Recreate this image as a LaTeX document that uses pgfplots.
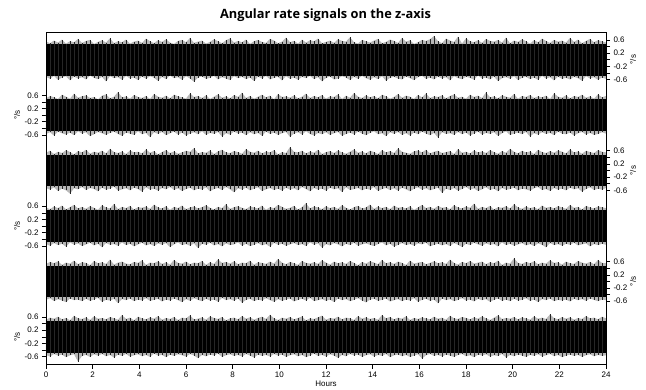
\documentclass[border=0pt]{standalone}
\usepackage{fontspec}
\setmainfont{Liberation Sans}
\newfontfamily\titlefont{Open Sans}
\usepackage{pgfplots}
\usepackage{pgfplotstable}
\pgfplotsset{compat=1.18}

\pgfplotstableread[row sep=\\]{
u d\\
0.55 -0.52\\0.50 -0.58\\0.58 -0.49\\0.52 -0.61\\0.61 -0.54\\0.49 -0.50\\0.56 -0.63\\0.53 -0.51\\0.63 -0.57\\0.51 -0.53\\
0.57 -0.60\\0.60 -0.48\\0.48 -0.55\\0.54 -0.59\\0.59 -0.52\\0.52 -0.66\\0.65 -0.50\\0.50 -0.56\\0.56 -0.53\\0.53 -0.61\\
0.61 -0.49\\0.49 -0.57\\0.55 -0.54\\0.58 -0.62\\0.51 -0.51\\0.64 -0.58\\0.56 -0.50\\0.50 -0.55\\0.59 -0.64\\0.54 -0.52\\
0.62 -0.59\\0.52 -0.48\\0.48 -0.56\\0.57 -0.53\\0.60 -0.61\\0.53 -0.50\\0.66 -0.57\\0.51 -0.67\\0.55 -0.54\\0.58 -0.51\\
0.49 -0.58\\0.54 -0.55\\0.62 -0.49\\0.56 -0.60\\0.50 -0.53\\0.59 -0.57\\0.65 -0.62\\0.52 -0.50\\0.57 -0.56\\0.53 -0.52\\
0.61 -0.59\\0.48 -0.54\\0.56 -0.65\\0.60 -0.51\\0.54 -0.57\\0.51 -0.49\\0.63 -0.60\\0.58 -0.55\\0.50 -0.52\\0.55 -0.63\\
0.67 -0.50\\0.53 -0.58\\0.57 -0.54\\0.49 -0.61\\0.61 -0.52\\0.52 -0.56\\0.59 -0.49\\0.56 -0.59\\0.64 -0.53\\0.50 -0.66\\
0.54 -0.55\\0.58 -0.51\\0.51 -0.60\\0.62 -0.57\\0.57 -0.50\\0.55 -0.54\\0.68 -0.62\\0.53 -0.52\\0.49 -0.58\\0.60 -0.49\\
0.56 -0.56\\0.52 -0.61\\0.58 -0.53\\0.63 -0.59\\0.50 -0.50\\0.54 -0.64\\0.61 -0.55\\0.57 -0.52\\0.51 -0.57\\0.66 -0.60\\
0.55 -0.51\\0.59 -0.56\\0.48 -0.62\\0.53 -0.53\\0.60 -0.49\\0.57 -0.58\\0.62 -0.54\\0.72 -0.60\\0.56 -0.51\\0.50 -0.57\\
0.64 -0.53\\0.58 -0.63\\0.54 -0.50\\0.70 -0.56\\0.49 -0.59\\0.65 -0.52\\0.56 -0.55\\0.53 -0.61\\0.59 -0.48\\0.51 -0.57\\
0.63 -0.54\\0.57 -0.60\\0.55 -0.51\\0.60 -0.65\\0.52 -0.56\\0.67 -0.53\\0.50 -0.58\\0.58 -0.50\\0.54 -0.62\\0.62 -0.55\\
0.56 -0.52\\0.49 -0.59\\0.59 -0.54\\0.53 -0.61\\0.64 -0.49\\0.57 -0.57\\0.51 -0.53\\0.60 -0.63\\0.55 -0.51\\0.58 -0.58\\
0.52 -0.55\\0.66 -0.60\\0.54 -0.52\\0.61 -0.56\\0.50 -0.64\\0.57 -0.50\\0.63 -0.57\\0.53 -0.53\\0.59 -0.61\\0.56 -0.54\\
0.52 -0.58\\
}\pA

\pgfplotstableread[row sep=\\]{
u d\\
0.51 -0.57\\0.58 -0.52\\0.54 -0.62\\0.49 -0.50\\0.62 -0.55\\0.56 -0.59\\0.50 -0.53\\0.65 -0.61\\0.53 -0.49\\0.57 -0.56\\
0.60 -0.52\\0.52 -0.64\\0.55 -0.58\\0.48 -0.51\\0.59 -0.55\\0.63 -0.60\\0.51 -0.54\\0.56 -0.50\\0.70 -0.57\\0.54 -0.63\\
0.57 -0.53\\0.50 -0.56\\0.61 -0.60\\0.55 -0.49\\0.52 -0.58\\0.58 -0.54\\0.49 -0.67\\0.64 -0.52\\0.56 -0.57\\0.53 -0.51\\
0.59 -0.61\\0.51 -0.55\\0.62 -0.50\\0.57 -0.59\\0.54 -0.53\\0.50 -0.62\\0.66 -0.56\\0.55 -0.52\\0.58 -0.58\\0.52 -0.49\\
0.60 -0.60\\0.49 -0.54\\0.56 -0.57\\0.63 -0.51\\0.53 -0.65\\0.57 -0.55\\0.51 -0.59\\0.61 -0.50\\0.55 -0.56\\0.68 -0.53\\
0.52 -0.61\\0.58 -0.52\\0.50 -0.58\\0.56 -0.54\\0.62 -0.63\\0.54 -0.50\\0.59 -0.57\\0.48 -0.53\\0.64 -0.60\\0.55 -0.55\\
0.57 -0.51\\0.53 -0.66\\0.60 -0.56\\0.51 -0.52\\0.56 -0.59\\0.65 -0.49\\0.52 -0.57\\0.58 -0.62\\0.54 -0.54\\0.61 -0.58\\
0.50 -0.52\\0.57 -0.60\\0.55 -0.55\\0.63 -0.51\\0.49 -0.63\\0.59 -0.57\\0.53 -0.53\\0.67 -0.59\\0.56 -0.50\\0.52 -0.56\\
0.60 -0.61\\0.54 -0.54\\0.58 -0.49\\0.51 -0.58\\0.62 -0.55\\0.57 -0.64\\0.50 -0.52\\0.55 -0.57\\0.64 -0.51\\0.53 -0.60\\
0.59 -0.55\\0.56 -0.62\\0.49 -0.53\\0.61 -0.58\\0.54 -0.50\\0.66 -0.56\\0.52 -0.61\\0.57 -0.54\\0.55 -0.68\\0.60 -0.52\\
0.51 -0.57\\0.58 -0.55\\0.63 -0.60\\0.53 -0.51\\0.56 -0.58\\0.50 -0.53\\0.62 -0.62\\0.55 -0.56\\0.59 -0.50\\0.52 -0.59\\
0.69 -0.54\\0.54 -0.57\\0.57 -0.52\\0.51 -0.63\\0.60 -0.55\\0.56 -0.49\\0.53 -0.60\\0.64 -0.56\\0.50 -0.53\\0.58 -0.58\\
0.55 -0.51\\0.61 -0.65\\0.52 -0.55\\0.57 -0.59\\0.54 -0.52\\0.59 -0.57\\0.49 -0.54\\0.66 -0.61\\0.56 -0.50\\0.53 -0.56\\
0.60 -0.58\\0.51 -0.53\\0.58 -0.62\\0.55 -0.55\\0.62 -0.51\\0.53 -0.59\\0.57 -0.54\\0.50 -0.60\\0.63 -0.57\\0.54 -0.52\\
0.58 -0.56\\
}\pB

\pgfplotstableread[row sep=\\]{
u d\\
0.54 -0.53\\0.60 -0.58\\0.50 -0.51\\0.57 -0.62\\0.53 -0.55\\0.62 -0.60\\0.56 -0.70\\0.49 -0.54\\0.59 -0.57\\0.55 -0.50\\
0.63 -0.59\\0.51 -0.53\\0.57 -0.56\\0.54 -0.63\\0.60 -0.52\\0.52 -0.58\\0.66 -0.55\\0.56 -0.49\\0.53 -0.61\\0.58 -0.57\\
0.50 -0.54\\0.61 -0.60\\0.55 -0.52\\0.57 -0.56\\0.52 -0.64\\0.64 -0.51\\0.54 -0.58\\0.59 -0.55\\0.49 -0.61\\0.56 -0.53\\
0.62 -0.57\\0.53 -0.50\\0.58 -0.59\\0.51 -0.54\\0.55 -0.62\\0.60 -0.56\\0.57 -0.52\\0.68 -0.60\\0.52 -0.55\\0.56 -0.58\\
0.54 -0.51\\0.61 -0.63\\0.50 -0.56\\0.58 -0.53\\0.63 -0.59\\0.55 -0.50\\0.53 -0.57\\0.59 -0.66\\0.56 -0.54\\0.51 -0.58\\
0.65 -0.52\\0.57 -0.60\\0.54 -0.55\\0.60 -0.51\\0.52 -0.62\\0.58 -0.57\\0.55 -0.53\\0.62 -0.59\\0.49 -0.55\\0.56 -0.61\\
0.53 -0.52\\0.71 -0.58\\0.57 -0.54\\0.55 -0.60\\0.60 -0.50\\0.52 -0.56\\0.58 -0.63\\0.54 -0.53\\0.63 -0.58\\0.50 -0.55\\
0.56 -0.61\\0.59 -0.52\\0.53 -0.57\\0.61 -0.54\\0.55 -0.65\\0.51 -0.51\\0.57 -0.59\\0.64 -0.56\\0.54 -0.53\\0.58 -0.60\\
0.52 -0.55\\0.60 -0.58\\0.56 -0.50\\0.50 -0.62\\0.62 -0.56\\0.55 -0.53\\0.59 -0.59\\0.53 -0.54\\0.67 -0.61\\0.57 -0.52\\
0.54 -0.57\\0.51 -0.63\\0.58 -0.55\\0.61 -0.51\\0.55 -0.58\\0.63 -0.54\\0.52 -0.60\\0.57 -0.56\\0.60 -0.52\\0.53 -0.68\\
0.56 -0.55\\0.59 -0.59\\0.50 -0.53\\0.65 -0.61\\0.54 -0.56\\0.57 -0.50\\0.52 -0.58\\0.61 -0.54\\0.55 -0.62\\0.58 -0.57\\
0.53 -0.51\\0.62 -0.59\\0.56 -0.55\\0.51 -0.63\\0.59 -0.53\\0.54 -0.58\\0.66 -0.56\\0.57 -0.52\\0.52 -0.60\\0.60 -0.55\\
0.55 -0.57\\0.58 -0.61\\0.50 -0.54\\0.63 -0.50\\0.56 -0.59\\0.53 -0.56\\0.59 -0.62\\0.54 -0.53\\0.61 -0.58\\0.57 -0.55\\
0.52 -0.60\\0.64 -0.52\\0.55 -0.57\\0.58 -0.54\\0.51 -0.64\\0.60 -0.56\\0.56 -0.51\\0.53 -0.59\\0.62 -0.55\\0.57 -0.58\\
0.55 -0.53\\
}\pC

\pgfplotstableread[row sep=\\]{
u d\\
0.56 -0.55\\0.51 -0.60\\0.59 -0.52\\0.54 -0.58\\0.62 -0.54\\0.50 -0.63\\0.57 -0.50\\0.64 -0.57\\0.53 -0.53\\0.58 -0.61\\
0.52 -0.56\\0.60 -0.51\\0.55 -0.59\\0.49 -0.54\\0.63 -0.65\\0.56 -0.52\\0.53 -0.57\\0.67 -0.55\\0.51 -0.60\\0.58 -0.50\\
0.54 -0.58\\0.61 -0.54\\0.50 -0.62\\0.57 -0.56\\0.55 -0.51\\0.59 -0.59\\0.52 -0.55\\0.65 -0.61\\0.56 -0.53\\0.53 -0.57\\
0.60 -0.52\\0.49 -0.64\\0.58 -0.56\\0.54 -0.50\\0.62 -0.58\\0.51 -0.55\\0.56 -0.60\\0.59 -0.53\\0.53 -0.67\\0.57 -0.54\\
0.63 -0.57\\0.55 -0.51\\0.50 -0.59\\0.58 -0.55\\0.54 -0.62\\0.66 -0.53\\0.52 -0.58\\0.57 -0.56\\0.60 -0.50\\0.55 -0.60\\
0.51 -0.54\\0.59 -0.61\\0.56 -0.57\\0.53 -0.52\\0.62 -0.59\\0.49 -0.55\\0.57 -0.63\\0.54 -0.51\\0.64 -0.57\\0.58 -0.54\\
0.52 -0.60\\0.55 -0.56\\0.61 -0.52\\0.50 -0.58\\0.57 -0.55\\0.69 -0.61\\0.53 -0.50\\0.59 -0.57\\0.56 -0.53\\0.51 -0.66\\
0.60 -0.55\\0.54 -0.59\\0.58 -0.52\\0.52 -0.56\\0.63 -0.62\\0.55 -0.54\\0.50 -0.58\\0.57 -0.51\\0.61 -0.60\\0.53 -0.56\\
0.56 -0.53\\0.65 -0.57\\0.52 -0.61\\0.59 -0.55\\0.54 -0.50\\0.58 -0.59\\0.51 -0.54\\0.62 -0.63\\0.55 -0.57\\0.57 -0.52\\
0.53 -0.58\\0.60 -0.55\\0.49 -0.60\\0.56 -0.53\\0.64 -0.56\\0.54 -0.51\\0.58 -0.62\\0.52 -0.57\\0.61 -0.54\\0.55 -0.59\\
0.57 -0.55\\0.51 -0.61\\0.63 -0.52\\0.56 -0.57\\0.53 -0.64\\0.59 -0.54\\0.55 -0.58\\0.68 -0.51\\0.52 -0.56\\0.58 -0.60\\
0.54 -0.53\\0.61 -0.57\\0.50 -0.55\\0.57 -0.62\\0.55 -0.50\\0.60 -0.58\\0.53 -0.54\\0.66 -0.60\\0.56 -0.56\\0.52 -0.52\\
0.59 -0.59\\0.54 -0.55\\0.57 -0.61\\0.51 -0.53\\0.62 -0.57\\0.55 -0.65\\0.58 -0.52\\0.53 -0.58\\0.60 -0.55\\0.56 -0.60\\
0.52 -0.54\\0.64 -0.57\\0.55 -0.51\\0.58 -0.59\\0.50 -0.56\\0.61 -0.53\\0.56 -0.62\\0.53 -0.55\\0.59 -0.58\\0.57 -0.54\\
0.54 -0.57\\
}\pD

\pgfplotstableread[row sep=\\]{
u d\\
0.53 -0.56\\0.59 -0.51\\0.55 -0.60\\0.61 -0.54\\0.50 -0.58\\0.57 -0.63\\0.54 -0.52\\0.63 -0.57\\0.52 -0.55\\0.58 -0.60\\
0.56 -0.53\\0.49 -0.59\\0.62 -0.55\\0.55 -0.50\\0.58 -0.62\\0.53 -0.56\\0.66 -0.58\\0.51 -0.53\\0.57 -0.66\\0.60 -0.54\\
0.54 -0.57\\0.52 -0.52\\0.59 -0.60\\0.56 -0.55\\0.64 -0.58\\0.50 -0.51\\0.57 -0.59\\0.55 -0.56\\0.61 -0.53\\0.53 -0.61\\
0.58 -0.55\\0.51 -0.58\\0.65 -0.52\\0.56 -0.57\\0.54 -0.63\\0.60 -0.54\\0.52 -0.59\\0.57 -0.51\\0.55 -0.56\\0.62 -0.60\\
0.50 -0.53\\0.58 -0.58\\0.53 -0.55\\0.67 -0.62\\0.56 -0.50\\0.59 -0.57\\0.54 -0.54\\0.61 -0.59\\0.52 -0.52\\0.57 -0.65\\
0.55 -0.56\\0.63 -0.53\\0.51 -0.60\\0.58 -0.55\\0.56 -0.58\\0.53 -0.51\\0.60 -0.57\\0.54 -0.62\\0.68 -0.54\\0.57 -0.59\\
0.52 -0.55\\0.59 -0.52\\0.55 -0.61\\0.50 -0.56\\0.62 -0.53\\0.56 -0.58\\0.54 -0.50\\0.58 -0.60\\0.53 -0.57\\0.64 -0.54\\
0.57 -0.59\\0.51 -0.55\\0.60 -0.63\\0.55 -0.52\\0.58 -0.57\\0.53 -0.54\\0.62 -0.60\\0.56 -0.56\\0.49 -0.51\\0.59 -0.58\\
0.54 -0.64\\0.61 -0.55\\0.57 -0.53\\0.52 -0.59\\0.65 -0.56\\0.55 -0.52\\0.58 -0.61\\0.53 -0.57\\0.60 -0.54\\0.56 -0.60\\
0.50 -0.55\\0.63 -0.58\\0.54 -0.51\\0.57 -0.62\\0.59 -0.56\\0.52 -0.53\\0.56 -0.59\\0.61 -0.55\\0.55 -0.67\\0.58 -0.52\\
0.53 -0.57\\0.66 -0.54\\0.56 -0.60\\0.51 -0.56\\0.59 -0.51\\0.55 -0.58\\0.62 -0.55\\0.54 -0.61\\0.57 -0.53\\0.60 -0.57\\
0.52 -0.54\\0.58 -0.62\\0.55 -0.56\\0.63 -0.52\\0.50 -0.59\\0.57 -0.55\\0.54 -0.60\\0.70 -0.53\\0.56 -0.58\\0.53 -0.56\\
0.59 -0.51\\0.55 -0.59\\0.61 -0.55\\0.52 -0.63\\0.57 -0.54\\0.54 -0.57\\0.64 -0.52\\0.56 -0.60\\0.58 -0.56\\0.51 -0.58\\
0.60 -0.55\\0.55 -0.61\\0.53 -0.53\\0.62 -0.57\\0.57 -0.54\\0.54 -0.59\\0.59 -0.52\\0.52 -0.56\\0.65 -0.60\\0.56 -0.55\\
0.55 -0.57\\
}\pE

\pgfplotstableread[row sep=\\]{
u d\\
0.52 -0.55\\0.58 -0.60\\0.55 -0.52\\0.61 -0.57\\0.53 -0.54\\0.57 -0.62\\0.50 -0.56\\0.64 -0.53\\0.56 -0.75\\0.54 -0.58\\
0.59 -0.55\\0.51 -0.61\\0.62 -0.53\\0.55 -0.57\\0.57 -0.52\\0.53 -0.59\\0.60 -0.55\\0.56 -0.63\\0.52 -0.54\\0.66 -0.58\\
0.54 -0.52\\0.58 -0.60\\0.50 -0.56\\0.61 -0.53\\0.56 -0.59\\0.53 -0.55\\0.59 -0.61\\0.55 -0.51\\0.63 -0.57\\0.52 -0.55\\
0.57 -0.62\\0.54 -0.54\\0.60 -0.58\\0.51 -0.53\\0.58 -0.56\\0.56 -0.60\\0.65 -0.52\\0.53 -0.57\\0.55 -0.65\\0.59 -0.55\\
0.52 -0.59\\0.62 -0.54\\0.57 -0.57\\0.54 -0.51\\0.60 -0.61\\0.50 -0.56\\0.56 -0.53\\0.58 -0.58\\0.53 -0.55\\0.63 -0.60\\
0.55 -0.52\\0.59 -0.57\\0.52 -0.63\\0.57 -0.54\\0.61 -0.58\\0.54 -0.55\\0.67 -0.60\\0.56 -0.52\\0.51 -0.57\\0.58 -0.54\\
0.55 -0.61\\0.60 -0.56\\0.53 -0.53\\0.57 -0.59\\0.62 -0.55\\0.50 -0.62\\0.56 -0.57\\0.54 -0.51\\0.59 -0.58\\0.64 -0.55\\
0.52 -0.60\\0.57 -0.53\\0.55 -0.57\\0.61 -0.64\\0.53 -0.55\\0.58 -0.59\\0.56 -0.52\\0.51 -0.57\\0.63 -0.54\\0.55 -0.61\\
0.59 -0.56\\0.54 -0.53\\0.57 -0.60\\0.52 -0.55\\0.66 -0.58\\0.56 -0.52\\0.60 -0.62\\0.53 -0.56\\0.58 -0.54\\0.55 -0.59\\
0.62 -0.55\\0.51 -0.61\\0.57 -0.57\\0.54 -0.53\\0.59 -0.66\\0.56 -0.56\\0.53 -0.52\\0.61 -0.58\\0.55 -0.55\\0.58 -0.60\\
0.52 -0.54\\0.64 -0.57\\0.56 -0.61\\0.54 -0.55\\0.60 -0.52\\0.57 -0.59\\0.53 -0.56\\0.59 -0.62\\0.55 -0.54\\0.62 -0.57\\
0.56 -0.53\\0.51 -0.60\\0.58 -0.56\\0.65 -0.58\\0.54 -0.52\\0.57 -0.63\\0.55 -0.55\\0.60 -0.59\\0.53 -0.54\\0.59 -0.57\\
0.56 -0.61\\0.52 -0.55\\0.62 -0.58\\0.55 -0.53\\0.58 -0.60\\0.54 -0.56\\0.68 -0.52\\0.57 -0.59\\0.53 -0.55\\0.60 -0.62\\
0.55 -0.57\\0.59 -0.54\\0.52 -0.58\\0.57 -0.55\\0.54 -0.61\\0.63 -0.56\\0.56 -0.53\\0.58 -0.59\\0.53 -0.55\\0.61 -0.58\\
0.56 -0.56\\
}\pF

\pgfplotsset{
  panel/.style={
    anchor=south west, width=560pt, height=55.417pt, scale only axis,
    xmin=0, xmax=24, ymin=-0.84, ymax=0.84,
    axis line style={draw=none}, xtick=\empty,
    ytick={-0.6,-0.2,0.2,0.6}, minor ytick={-0.4,0,0.4},
    tick align=outside, major tick length=4pt, minor tick length=4pt,
    every tick/.style={black, line width=0.5pt},
    every minor tick/.style={black, line width=0.5pt},
    /pgf/number format/assume math mode=true,
    yticklabel style={font=\fontsize{8}{9}\selectfont},
  },
  lpanel/.style={panel, ytick pos=left, yticklabel pos=left},
  rpanel/.style={panel, ytick pos=right, yticklabel pos=right},
  spk/.style={ycomb, black!85, line width=0.4pt, mark=none},
  halo/.style={fill=black!28, draw=none, mark=none},
  core/.style={fill=black, draw=none, mark=none},
}

\newcommand\panelplots[1]{%
  \addplot[halo] table[x expr=\coordindex*0.171428571, y=u] {#1} \closedcycle;
  \addplot[halo] table[x expr=\coordindex*0.171428571, y=d] {#1} \closedcycle;
  \addplot[core] coordinates {(0,-0.48) (0,0.48) (24,0.48) (24,-0.48)} -- cycle;
  \addplot[spk] table[x expr=\coordindex*0.171428571, y=u] {#1};
  \addplot[spk] table[x expr=\coordindex*0.171428571, y=d] {#1};
}

\begin{document}
\begin{tikzpicture}
\useasboundingbox (0,0) rectangle (646pt,389pt);

\begin{axis}[rpanel, at={(46pt,301.583pt)}]
\panelplots{\pA}
\end{axis}

\begin{axis}[lpanel, at={(46pt,246.167pt)}]
\panelplots{\pB}
\end{axis}

\begin{axis}[rpanel, at={(46pt,190.75pt)}]
\panelplots{\pC}
\end{axis}

\begin{axis}[lpanel, at={(46pt,135.333pt)}]
\panelplots{\pD}
\end{axis}

\begin{axis}[rpanel, at={(46pt,79.917pt)}]
\panelplots{\pE}
\end{axis}

\begin{axis}[lpanel, at={(46pt,24.5pt)}]
\panelplots{\pF}
\end{axis}

\begin{axis}[at={(46pt,24.5pt)}, anchor=south west, width=560pt, height=332.5pt,
  scale only axis, xmin=0, xmax=24, ymin=0, ymax=1, ytick=\empty,
  xtick={0,2,...,24}, xtick pos=bottom, tick align=outside, major tick length=4pt,
  every tick/.style={black, line width=0.5pt},
  axis line style={line width=0.6pt},
  /pgf/number format/assume math mode=true,
  xticklabel style={font=\fontsize{8}{9}\selectfont},
  xlabel={Hours},
  xlabel style={at={(axis description cs:0.5,-0.0595)}, anchor=center, font=\fontsize{8}{9}\selectfont}]
\addplot[draw=none] coordinates {(0,0)};
\end{axis}

\begin{scope}[every node/.style={rotate=90, font=\fontsize{8}{9}\selectfont}]
\node at (633pt,329.3pt) {°/s};
\node at (17pt,273.9pt) {°/s};
\node at (633pt,218.5pt) {°/s};
\node at (17pt,163.0pt) {°/s};
\node at (633pt,107.6pt) {°/s};
\node at (17pt,52.2pt) {°/s};
\end{scope}

\node[font=\titlefont\bfseries\fontsize{12.8}{15}\selectfont] at (325.5pt,374pt) {Angular rate signals on the z-axis};
\end{tikzpicture}
\end{document}
